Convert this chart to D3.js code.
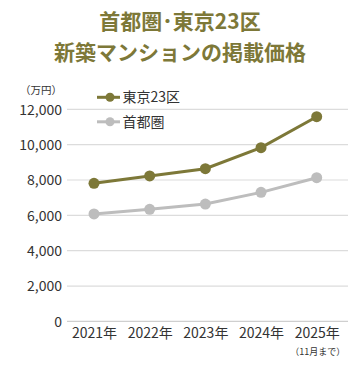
<!DOCTYPE html>
<html><head><meta charset="utf-8">
<script src="https://cdn.jsdelivr.net/npm/d3@7"></script>
<style>body{margin:0;background:#fff}svg{display:block}</style>
</head><body>
<svg id="c" width="360" height="366"></svg>
<script>
const years = ["2021年","2022年","2023年","2024年","2025年"];
const tokyo23 = [7810, 8230, 8640, 9830, 11580];
const shutoken = [6080, 6340, 6640, 7300, 8130];
const yTicks = [0, 2000, 4000, 6000, 8000, 10000, 12000];
const seriesNames = ["東京23区", "首都圏"];
const colors = ["#7d7838", "#bdbdbd"];
const titleLines = ["首都圏･東京23区", "新築マンションの掲載価格"];

const svg = d3.select("#c");
const font = "'Noto Sans CJK JP', 'Noto Sans', sans-serif";
const x = d3.scalePoint().domain(years).range([94, 316.7]);
const y = d3.scaleLinear().domain([0, 12000]).range([321.4, 109.3]);

svg.selectAll("text.title").data(titleLines).join("text")
  .attr("x", 180).attr("y", (d,i)=>29 + i*31)
  .attr("text-anchor","middle").attr("font-family", font)
  .attr("font-weight","bold").attr("font-size", 21).attr("fill","#7d7838")
  .text(d=>d);

// grid
svg.selectAll("line.grid").data(yTicks).join("line")
  .attr("x1", 67).attr("x2", 348)
  .attr("y1", d=>y(d)).attr("y2", d=>y(d))
  .attr("stroke", d=> d===0 ? "#cfcfcf" : "#dcdcdc").attr("stroke-width", 1.2);

// y axis labels
const yAxis = d3.axisLeft(y).tickValues(yTicks).tickSize(0).tickPadding(0).tickFormat(d3.format(","));
const ga = svg.append("g").attr("transform","translate(62,0)").call(yAxis);
ga.select(".domain").remove();
ga.selectAll("text").attr("font-family", font).attr("font-size", 14).attr("fill","#333").attr("dy","0.34em");

svg.append("text").attr("x", 62).attr("y", 94).attr("text-anchor","end")
  .attr("font-family", font).attr("font-size", 10.5).attr("fill","#333").text("（万円）");

// x axis labels
const xAxis = d3.axisBottom(x).tickSize(0).tickPadding(0);
const gx = svg.append("g").attr("transform","translate(0,328)").call(xAxis);
gx.select(".domain").remove();
gx.selectAll("text").attr("font-family", font).attr("font-size", 14).attr("fill","#333").attr("dy","0.71em");
svg.append("text").attr("x", x("2025年")+1).attr("y", 355).attr("text-anchor","middle")
  .attr("font-family", font).attr("font-size", 9).attr("fill","#333").text("（11月まで）");

// lines
const data = [tokyo23, shutoken];
const line = d3.line().x((d,i)=>x(years[i])).y(d=>y(d));
[1,0].forEach(s=>{
  svg.append("path").datum(data[s]).attr("d", line).attr("fill","none")
    .attr("stroke", colors[s]).attr("stroke-width", 3);
  svg.selectAll("circle.s"+s).data(data[s]).join("circle")
    .attr("cx",(d,i)=>x(years[i])).attr("cy", d=>y(d)).attr("r", 5.5).attr("fill", colors[s]);
});

// legend
seriesNames.forEach((n,i)=>{
  const ly = 97.3 + i*24.5;
  svg.append("line").attr("x1",97).attr("x2",120).attr("y1",ly).attr("y2",ly)
    .attr("stroke",colors[i]).attr("stroke-width",3);
  svg.append("circle").attr("cx",110).attr("cy",ly).attr("r",4.5).attr("fill",colors[i]);
  svg.append("text").attr("x",122.5).attr("y",ly).attr("dy","0.36em")
    .attr("font-family", font).attr("font-size", 14).attr("fill","#333").text(n);
});
</script>
</body></html>
